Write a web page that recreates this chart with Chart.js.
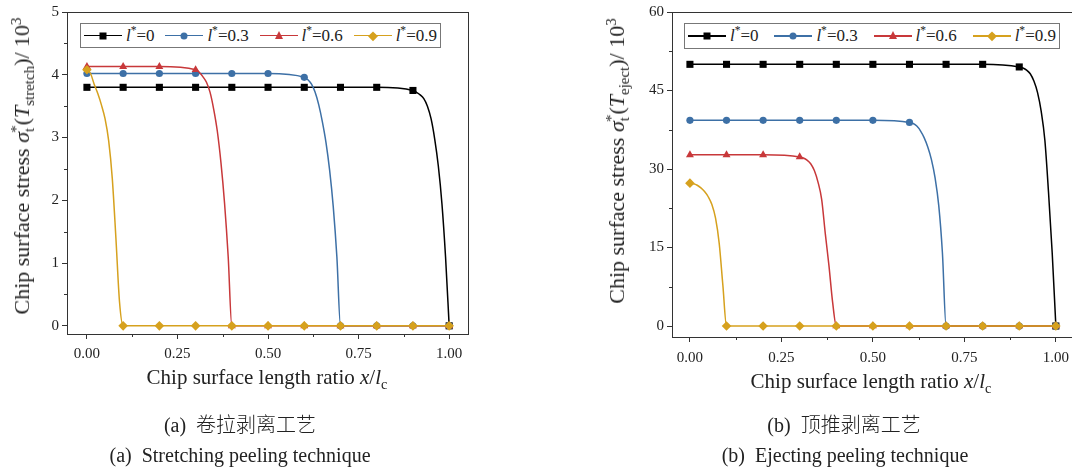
<!DOCTYPE html>
<html lang="en">
<head>
<meta charset="UTF-8">
<title>Chip surface stress</title>
<script src="https://cdn.jsdelivr.net/npm/chart.js"></script>
<style>
    * { margin: 0; padding: 0; box-sizing: border-box; }
    body {
        width: 1072px; height: 473px; overflow: hidden; position: relative;
        background: white; color: #222;
        font-family: 'Liberation Serif', 'DejaVu Serif', serif;
    }
    canvas { position: absolute; top: 0; }
    #stretchChart { left: 0; }
    #ejectChart { left: 580px; }
    .ytitle, .xtitle, .caption { position: absolute; white-space: nowrap; }
    .ytitle { font-size: 22px; transform: translate(-50%, -50%) rotate(-90deg); }
    .xtitle { font-size: 21px; transform: translateX(-50%); }
    .caption { font-size: 20px; transform: translateX(-50%); }
    .cjk { font-family: 'Noto Sans CJK SC', sans-serif; font-weight: 300; font-size: 20px; }
    sub, sup { font-size: 68%; line-height: 0; }
    .legend {
        position: absolute; border: 1px solid #777; background: white;
        display: flex; align-items: center; justify-content: space-between;
        padding: 0 3px; font-size: 17px;
    }
    .entry { display: flex; align-items: center; }
    .seg { position: relative; width: 38px; height: 1.5px; margin-right: 4px; }
    .mk { position: absolute; left: 50%; top: 50%; transform: translate(-50%, -50%); }
</style>
</head>
<body>

<canvas id="stretchChart" width="500" height="380"></canvas>
<canvas id="ejectChart" width="520" height="383"></canvas>

<div class="ytitle" style="left:22px; top:166px;">Chip surface stress <i>σ</i><sub>t</sub><sup style="margin-left:-5px">*</sup>(<i>T</i><sub>stretch</sub>)/ 10<sup>3</sup></div>
<div class="ytitle" style="left:617px; top:161px;">Chip surface stress <i>σ</i><sub>t</sub><sup style="margin-left:-5px">*</sup>(<i>T</i><sub>eject</sub>)/ 10<sup>3</sup></div>

<div class="xtitle" style="left:267px; top:365px;">Chip surface length ratio <i>x</i>/<i>l</i><sub>c</sub></div>
<div class="xtitle" style="left:871px; top:369px;">Chip surface length ratio <i>x</i>/<i>l</i><sub>c</sub></div>

<div class="caption" style="left:240px; top:409px;">(a)&nbsp; <span class="cjk">卷拉剥离工艺</span></div>
<div class="caption" style="left:240px; top:444px;">(a)&nbsp; Stretching peeling technique</div>
<div class="caption" style="left:844px; top:409px;">(b)&nbsp; <span class="cjk">顶推剥离工艺</span></div>
<div class="caption" style="left:845px; top:444px;">(b)&nbsp; Ejecting peeling technique</div>

<div class="legend" id="legA" style="left:80px; top:23px; width:361px; height:25px;"></div>
<div class="legend" id="legB" style="left:684px; top:23px; width:376px; height:26px;"></div>

<script>
// series labels and look
const seriesNames = ["0", "0.3", "0.6", "0.9"];
const seriesColors = ["#000000", "#3d70a6", "#c8383a", "#d6a11e"];
const seriesShapes = ["rect", "circle", "triangle", "rectRot"];
const seriesRadius = [5, 3.6, 4.6, 4.8];
const seriesOrder = [4, 3, 2, 1];   // gold ends up on top

// x axis ticks
const xMajor = [0, 0.25, 0.5, 0.75, 1];
const xMinor = [0.125, 0.375, 0.625, 0.875];

// (a) stretching, [x/lc, stress/1e3]
const stretchYMajor = [0, 1, 2, 3, 4, 5];
const stretchYMinor = [0.5, 1.5, 2.5, 3.5, 4.5];
const stretchL0 = [[0,3.8],[0.1,3.8],[0.2,3.8],[0.3,3.8],[0.4,3.8],[0.5,3.8],[0.6,3.8],[0.7,3.8],[0.8,3.8],
    [0.9,3.75],[0.91,3.72],[0.92,3.68],[0.93,3.62],[0.94,3.5],[0.95,3.3],[0.96,2.98],[0.97,2.55],[0.98,1.95],[0.99,1.1],[1.0,0]];
const stretchL03 = [[0,4.02],[0.1,4.02],[0.2,4.02],[0.3,4.02],[0.4,4.02],[0.5,4.02],
    [0.6,3.96],[0.61,3.92],[0.62,3.85],[0.63,3.72],[0.64,3.52],[0.65,3.25],[0.66,2.92],[0.67,2.48],[0.68,1.9],[0.69,1.1],
    [0.7,0],[0.8,0],[0.9,0],[1.0,0]];
const stretchL06 = [[0,4.13],[0.1,4.13],[0.2,4.13],
    [0.3,4.08],[0.31,4.04],[0.32,3.97],[0.33,3.88],[0.34,3.72],[0.35,3.45],[0.36,3.1],[0.37,2.6],[0.38,1.95],[0.39,1.1],
    [0.4,0],[0.5,0],[0.6,0],[0.7,0],[0.8,0],[0.9,0],[1.0,0]];
const stretchL09 = [[0,4.08],[0.01,4.02],[0.02,3.85],[0.03,3.7],[0.04,3.52],[0.05,3.3],[0.06,2.95],[0.07,2.35],[0.08,1.4],[0.09,0.38],
    [0.1,0],[0.2,0],[0.3,0],[0.4,0],[0.5,0],[0.6,0],[0.7,0],[0.8,0],[0.9,0],[1.0,0]];

// (b) ejecting
const ejectYMajor = [0, 15, 30, 45, 60];
const ejectYMinor = [7.5, 22.5, 37.5, 52.5];
const ejectL0 = [[0,50],[0.1,50],[0.2,50],[0.3,50],[0.4,50],[0.5,50],[0.6,50],[0.7,50],[0.8,50],
    [0.9,49.5],[0.91,49.3],[0.92,48.9],[0.93,48.2],[0.94,46.8],[0.95,44.6],[0.96,41.0],[0.97,35.5],[0.98,25.5],[0.99,14.0],[1.0,0]];
const ejectL03 = [[0,39.3],[0.1,39.3],[0.2,39.3],[0.3,39.3],[0.4,39.3],[0.5,39.3],
    [0.6,38.9],[0.61,38.7],[0.62,38.2],[0.63,37.3],[0.64,36.0],[0.65,34.2],[0.66,31.8],[0.67,28.3],[0.68,23.0],[0.69,14.0],
    [0.7,0],[0.8,0],[0.9,0],[1.0,0]];
const ejectL06 = [[0,32.7],[0.1,32.7],[0.2,32.7],
    [0.3,32.3],[0.31,32.1],[0.32,31.7],[0.33,31.0],[0.34,29.7],[0.35,27.5],[0.36,24.2],[0.37,17.6],[0.38,11.5],[0.39,4.5],
    [0.4,0],[0.5,0],[0.6,0],[0.7,0],[0.8,0],[0.9,0],[1.0,0]];
const ejectL09 = [[0,27.3],[0.01,27.2],[0.02,26.9],[0.03,26.4],[0.04,25.7],[0.05,24.7],[0.06,23.2],[0.07,20.6],[0.08,15.8],[0.09,7.8],
    [0.1,0],[0.2,0],[0.3,0],[0.4,0],[0.5,0],[0.6,0],[0.7,0],[0.8,0],[0.9,0],[1.0,0]];

// markers only every 0.1
function isMarker(x) { return Math.abs(x * 10 - Math.round(x * 10)) < 1e-6; }

// box around plot + short minor ticks
const framePlugin = {
    id: 'frame',
    afterDraw(chart, args, opts) {
        const ctx = chart.ctx, a = chart.chartArea, sx = chart.scales.x, sy = chart.scales.y;
        ctx.save();
        ctx.strokeStyle = '#333';
        ctx.lineWidth = 1;
        ctx.strokeRect(Math.round(a.left) + 0.5, Math.round(a.top) + 0.5, Math.round(a.right - a.left), Math.round(a.bottom - a.top));
        ctx.beginPath();
        opts.xMinor.forEach(v => {
            const px = Math.round(sx.getPixelForValue(v)) + 0.5;
            ctx.moveTo(px, a.bottom); ctx.lineTo(px, a.bottom + 3);
        });
        opts.yMinor.forEach(v => {
            const py = Math.round(sy.getPixelForValue(v)) + 0.5;
            ctx.moveTo(a.left, py); ctx.lineTo(a.left - 3, py);
        });
        ctx.stroke();
        ctx.restore();
    }
};

function makeDatasets(list) {
    return list.map((d, i) => ({
        label: 'l*=' + seriesNames[i],
        data: d,
        order: seriesOrder[i],
        borderColor: seriesColors[i],
        backgroundColor: seriesColors[i],
        borderWidth: 1.5,
        pointStyle: seriesShapes[i],
        pointRadius: c => isMarker(c.raw[0]) ? seriesRadius[i] : 0,
        pointBorderWidth: 0,
        cubicInterpolationMode: 'monotone',
        clip: false
    }));
}

function makeChart(id, sets, yMin, yMax, yMajor, yMinor, xMin, xMax, yWidth, pad, xLabelPad) {
    return new Chart(document.getElementById(id), {
        type: 'line',
        data: { datasets: makeDatasets(sets) },
        options: {
            responsive: false,
            animation: false,
            layout: { padding: pad },
            plugins: {
                legend: { display: false },
                tooltip: { enabled: false },
                frame: { xMinor: xMinor, yMinor: yMinor }
            },
            scales: {
                x: {
                    type: 'linear', min: xMin, max: xMax,
                    afterBuildTicks: ax => { ax.ticks = xMajor.map(v => ({ value: v })); },
                    afterFit: ax => { ax.height = 46; },
                    grid: { drawOnChartArea: false, tickLength: 5, color: '#333' },
                    border: { color: '#333' },
                    ticks: {
                        autoSkip: false, maxRotation: 0, padding: xLabelPad, color: '#222',
                        font: { family: 'Liberation Serif', size: 15 },
                        callback: v => v.toFixed(2)
                    }
                },
                y: {
                    min: yMin, max: yMax,
                    afterBuildTicks: ax => { ax.ticks = yMajor.map(v => ({ value: v })); },
                    afterFit: ax => { ax.width = yWidth; },
                    grid: { drawOnChartArea: false, tickLength: 5, color: '#333' },
                    border: { color: '#333' },
                    ticks: {
                        padding: 3, color: '#222',
                        font: { family: 'Liberation Serif', size: 15 },
                        callback: v => String(v)
                    }
                }
            }
        },
        plugins: [framePlugin]
    });
}

makeChart('stretchChart', [stretchL0, stretchL03, stretchL06, stretchL09],
    -0.13, 5, stretchYMajor, stretchYMinor, -0.055, 1.052, 67, { left: 0, right: 32, top: 12, bottom: 0 }, 6);
makeChart('ejectChart', [ejectL0, ejectL03, ejectL06, ejectL09],
    -2.1, 60, ejectYMajor, ejectYMinor, -0.049, 1.066, 92, { left: 0, right: 20, top: 12, bottom: 0 }, 7);

// html legends so the label can be italic with a superscript
function markerHtml(i) {
    const c = seriesColors[i];
    if (i === 0) return '<span class="mk" style="width:7px;height:7px;background:' + c + '"></span>';
    if (i === 1) return '<span class="mk" style="width:7px;height:7px;border-radius:50%;background:' + c + '"></span>';
    if (i === 2) return '<span class="mk" style="width:0;height:0;border-left:4.5px solid transparent;border-right:4.5px solid transparent;border-bottom:8px solid ' + c + ';margin-top:-1px"></span>';
    return '<span class="mk" style="width:6.5px;height:6.5px;background:' + c + ';transform:translate(-50%,-50%) rotate(45deg)"></span>';
}
['legA', 'legB'].forEach(id => {
    document.getElementById(id).innerHTML = seriesNames.map((n, i) =>
        '<span class="entry"><span class="seg" style="background:' + seriesColors[i] + '">' + markerHtml(i) +
        '</span><span><i>l</i><sup>*</sup>=' + n + '</span></span>').join('');
});
</script>
</body>
</html>
